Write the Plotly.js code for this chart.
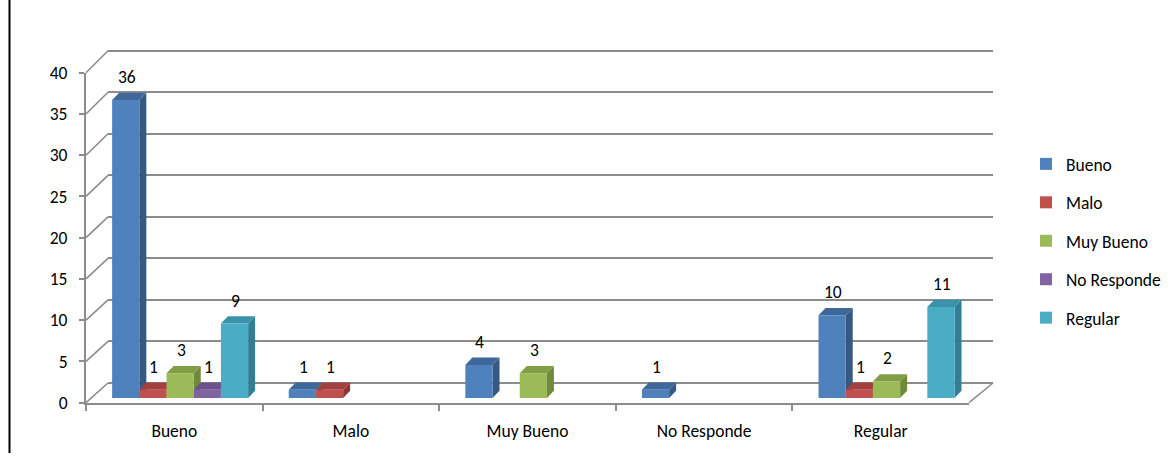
<!DOCTYPE html>
<html>
<head>
<meta charset="utf-8">
<script src="https://cdn.plot.ly/plotly-3.0.1.min.js"></script>
<style>html,body{margin:0;padding:0;background:#fff;}#chart{width:1171px;height:456px;}</style>
</head>
<body>
<div id="chart"></div>
<script>
// ---- data ----
const categories = ['Bueno', 'Malo', 'Muy Bueno', 'No Responde', 'Regular'];
const seriesNames = ['Bueno', 'Malo', 'Muy Bueno', 'No Responde', 'Regular'];
const bueno      = [36, 1, 4, 1, 10];
const malo       = [1, 1, null, null, 1];
const muyBueno   = [3, null, 3, null, 2];
const noResponde = [1, null, null, null, null];
const regular    = [9, null, null, null, 11];
const yTicks     = [0, 5, 10, 15, 20, 25, 30, 35, 40];

const seriesValues = [bueno, malo, muyBueno, noResponde, regular];
const frontColors = ['#4F81BD', '#C0504D', '#9BBB59', '#8064A2', '#4BACC6'];
const sideColors  = ['#36597F', '#8A3836', '#6E8A3A', '#5C4779', '#327F93'];
const topColors   = ['#3F689A', '#A2413E', '#809E45', '#6A528B', '#3A93AB'];

// ---- geometry (pixels) ----
const W = 1171, H = 456;
const px = x => x / W;
const py = y => 1 - y / H;
const front = {x0: 86, x1: 969, y0: 402.7, y40: 72.7};
const back  = {x0: 108, x1: 993, y0: 383, y40: 50.7};
const bars  = {x0: 92, x1: 975, y0: 398, y40: 67};
const FONT = 'Carlito, Calibri, Lato, sans-serif';
const FS = 17.5;
const GRID = '#8c8c8c';

const barW = 0.154, firstOff = -0.386;
const unitPx = (bars.x1 - bars.x0) / 5;
const unitPy = (bars.y0 - bars.y40) / 40;
const dX = 7 / unitPx, dY = 7.3 / unitPy;

const traces = [];
// helper traces so front/back axes exist
traces.push({type: 'scatter', x: categories, y: categories.map(() => 0), xaxis: 'x', yaxis: 'y',
  mode: 'markers', marker: {opacity: 0}, showlegend: false, hoverinfo: 'skip'});
traces.push({type: 'scatter', x: [0], y: [0], xaxis: 'x2', yaxis: 'y2',
  mode: 'markers', marker: {opacity: 0}, showlegend: false, hoverinfo: 'skip'});

const shapes = [];
const annotations = [];
const idx = categories.map((c, i) => i);

seriesValues.forEach((vals, j) => {
  const off = firstOff + j * barW;
  traces.push({
    type: 'bar', name: seriesNames[j], x: idx, y: vals, xaxis: 'x3', yaxis: 'y3',
    width: barW, offset: off, marker: {color: frontColors[j], line: {width: 0}},
    legendgroup: 'g' + j, hovertemplate: seriesNames[j] + ' – %{customdata}: %{y}<extra></extra>',
    customdata: categories
  });
  vals.forEach((v, i) => {
    if (v === null || v === undefined) return;
    const xl = i + off, xr = xl + barW;
    shapes.push({type: 'path', xref: 'x3', yref: 'y3', layer: 'below', line: {width: 0},
      fillcolor: sideColors[j],
      path: `M${xr},0 L${xr + dX},${dY} L${xr + dX},${v + dY} L${xr},${v} Z`});
    shapes.push({type: 'path', xref: 'x3', yref: 'y3', layer: 'below', line: {width: 0},
      fillcolor: topColors[j],
      path: `M${xl},${v} L${xl + dX},${v + dY} L${xr + dX},${v + dY} L${xr},${v} Z`});
    annotations.push({xref: 'x3', yref: 'y3', x: xl + barW / 2, y: v, text: String(v),
      showarrow: false, yanchor: 'middle', yshift: 23, xshift: 1,
      font: {family: FONT, size: FS, color: '#000'}});
  });
});

// left wall diagonals & floor edges (decoration)
const yF = v => front.y0 - v * (front.y0 - front.y40) / 40;
const yB = v => back.y0 - v * (back.y0 - back.y40) / 40;
yTicks.forEach(v => {
  shapes.push({type: 'line', xref: 'paper', yref: 'paper',
    x0: px(front.x0), y0: py(yF(v)), x1: px(back.x0), y1: py(yB(v)),
    line: {color: GRID, width: 1.6}});
});
shapes.push({type: 'line', xref: 'paper', yref: 'paper',
  x0: px(front.x1), y0: py(front.y0), x1: px(back.x1), y1: py(back.y0),
  line: {color: GRID, width: 1.6}});
shapes.push({type: 'line', xref: 'paper', yref: 'paper',
  x0: px(9.5), y0: py(0), x1: px(9.5), y1: py(453), line: {color: '#000', width: 2}});

// back wall axis padded by 1 unit each side so edge gridlines are drawn
const bUnit = (back.y0 - back.y40) / 40;

const layout = {
  width: W, height: H,
  margin: {l: 0, r: 0, t: 0, b: 0},
  paper_bgcolor: '#fff', plot_bgcolor: 'rgba(0,0,0,0)',
  font: {family: FONT, size: FS, color: '#000'},
  showlegend: true,
  barmode: 'overlay',
  legend: {x: px(1026), y: py(146), xanchor: 'left', yanchor: 'top',
    traceorder: 'grouped', tracegroupgap: 12.7, font: {family: FONT, size: FS, color: '#000'},
    bgcolor: 'rgba(0,0,0,0)', itemclick: false, itemdoubleclick: false},
  xaxis: {domain: [px(front.x0), px(front.x1)], anchor: 'y', type: 'category',
    categoryorder: 'array', categoryarray: categories, range: [-0.5, 4.5],
    tickson: 'boundaries', ticks: 'outside', ticklen: 6, tickwidth: 1.5, tickcolor: GRID,
    showline: true, linecolor: GRID, linewidth: 2, showgrid: false, zeroline: false,
    ticklabelstandoff: 11, tickfont: {family: FONT, size: FS, color: '#000'}, fixedrange: true},
  yaxis: {domain: [py(front.y0), py(front.y40)], anchor: 'x', range: [0, 40],
    tickmode: 'array', tickvals: yTicks, ticktext: yTicks.map(String),
    ticks: 'outside', ticklen: 5, tickwidth: 1.5, tickcolor: GRID,
    showline: true, linecolor: GRID, linewidth: 2, showgrid: false, zeroline: false,
    ticklabelstandoff: 8, tickfont: {family: FONT, size: FS, color: '#000'}, fixedrange: true},
  xaxis2: {domain: [px(back.x0), px(back.x1)], anchor: 'y2', range: [0, 1], visible: false, fixedrange: true},
  yaxis2: {domain: [py(back.y0 + bUnit), py(back.y40 - bUnit)], anchor: 'x2', range: [-1, 41],
    tickmode: 'array', tickvals: yTicks, showticklabels: false, ticks: '', showline: false,
    showgrid: true, gridcolor: GRID, gridwidth: 1.8, zeroline: false, fixedrange: true},
  xaxis3: {domain: [px(bars.x0), px(bars.x1)], anchor: 'y3', range: [-0.5, 4.5], visible: false, fixedrange: true},
  yaxis3: {domain: [py(bars.y0), py(bars.y40)], anchor: 'x3', range: [0, 40], visible: false, fixedrange: true},
  shapes: shapes,
  annotations: annotations
};

Plotly.newPlot('chart', traces, layout, {displayModeBar: false});
</script>
</body>
</html>
